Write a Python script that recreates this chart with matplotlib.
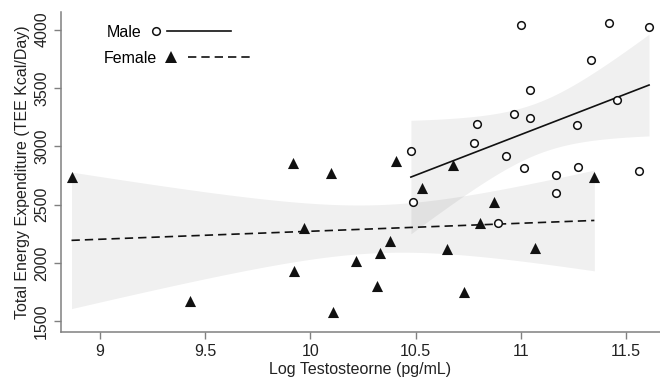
import numpy as np
import matplotlib
matplotlib.use('Agg')
import matplotlib.pyplot as plt
from matplotlib.lines import Line2D
from matplotlib.legend_handler import HandlerBase

plt.rcParams['font.family'] = ['Liberation Sans', 'DejaVu Sans']

# male: log testosterone vs TEE
male_x = [11.00, 11.42, 11.61, 11.335, 11.045, 11.457, 10.966, 11.042, 10.79, 11.267,
          10.78, 10.478, 10.928, 11.017, 11.17, 11.27, 11.56, 11.166, 10.489, 10.89]
male_y = [4038, 4057, 4023, 3737, 3480, 3395, 3275, 3240, 3186, 3180,
          3029, 2957, 2917, 2814, 2757, 2818, 2783, 2600, 2523, 2343]

# female
female_x = [8.865, 9.428, 9.916, 9.922, 9.971, 10.098, 10.106, 10.217, 10.318, 10.33,
            10.38, 10.407, 10.53, 10.65, 10.68, 10.73, 10.806, 10.875, 11.07, 11.35]
female_y = [2737, 1674, 2852, 1929, 2295, 2766, 1580, 2014, 1800, 2086,
            2186, 2872, 2643, 2117, 2837, 1751, 2343, 2523, 2128, 2737]

x_ticks = [9, 9.5, 10, 10.5, 11, 11.5]
x_tick_labels = ['9', '9.5', '10', '10.5', '11', '11.5']
y_ticks = [1500, 2000, 2500, 3000, 3500, 4000]

T_CRIT = 2.101  # t(0.975, df=18)
DASH = (0, (5, 3))


def fit_band(x, y):
    x = np.asarray(x, float)
    y = np.asarray(y, float)
    b, a = np.polyfit(x, y, 1)
    xs = np.linspace(x.min(), x.max(), 100)
    yhat = a + b * xs
    resid = y - (a + b * x)
    s = np.sqrt(np.sum(resid ** 2) / (len(x) - 2))
    sxx = np.sum((x - x.mean()) ** 2)
    se = s * np.sqrt(1.0 / len(x) + (xs - x.mean()) ** 2 / sxx)
    return xs, yhat, yhat - T_CRIT * se, yhat + T_CRIT * se


class MarkThenLine(HandlerBase):
    # marker first, then a line segment, inside one legend handle
    def __init__(self, mark_x, line_x0, **kw):
        super().__init__(**kw)
        self.mark_x = mark_x
        self.line_x0 = line_x0

    def create_artists(self, legend, orig_handle, xdescent, ydescent, width, height, fontsize, trans):
        mk, ln = orig_handle
        y = height / 2 - ydescent
        m = Line2D([-xdescent + self.mark_x], [y], ls='none', marker=mk.get_marker(),
                   ms=mk.get_markersize(), mfc=mk.get_markerfacecolor(),
                   mec=mk.get_markeredgecolor(), mew=mk.get_markeredgewidth())
        l = Line2D([-xdescent + self.line_x0, -xdescent + width], [y, y], color=ln.get_color(),
                   lw=ln.get_linewidth(), ls=ln.get_linestyle())
        if ln.get_linestyle() != '-':
            l.set_dashes(DASH[1])
        m.set_transform(trans)
        l.set_transform(trans)
        return [l, m]


fig = plt.figure(figsize=(6.6, 3.8), dpi=100)
ax = fig.add_axes([0.0924, 0.126, 0.9076, 0.842])

for xv, yv, ls in [(female_x, female_y, DASH), (male_x, male_y, '-')]:
    xs, yhat, lo, hi = fit_band(xv, yv)
    ax.fill_between(xs, lo, hi, color='k', alpha=0.06, linewidth=0)
    ax.plot(xs, yhat, color='#111111', lw=1.2, linestyle=ls, zorder=3)

ax.scatter(female_x, female_y, marker='^', s=8 ** 2, color='#111111', zorder=4, linewidths=0)
ax.scatter(male_x, male_y, marker='o', s=5.5 ** 2, facecolor='white', edgecolor='#111111',
           linewidths=1.1, zorder=4)

ax.set_xlim(8.815, 11.662)
ax.set_ylim(1406, 4149)
ax.set_xticks(x_ticks)
ax.set_xticklabels(x_tick_labels)
ax.set_yticks(y_ticks)
ax.tick_params(axis='y', labelrotation=90)
for lab in ax.get_yticklabels():
    lab.set_va('center')

for side in ['top', 'right']:
    ax.spines[side].set_visible(False)
for side in ['left', 'bottom']:
    ax.spines[side].set_color('#808080')
    ax.spines[side].set_linewidth(1.1)
ax.tick_params(colors='#808080', labelcolor='#222222', labelsize=11.5, length=5, width=1)

ax.set_xlabel('Log Testosteorne (pg/mL)', fontsize=11.5, color='#222222', labelpad=2)
ax.set_ylabel('Total Energy Expenditure (TEE Kcal/Day)', fontsize=11.5, color='#222222', labelpad=3)

m_mark = Line2D([], [], marker='o', ls='none', ms=5.5, mfc='white', mec='#111111', mew=1.1)
m_line = Line2D([], [], color='#111111', lw=1.2, ls='-')
f_mark = Line2D([], [], marker='^', ls='none', ms=8, mfc='#111111', mec='#111111', mew=0)
f_line = Line2D([], [], color='#111111', lw=1.2, ls='--')

leg1 = ax.legend([(m_mark, m_line)], ['Male'], handler_map={tuple: MarkThenLine(5.5, 13.4)},
                 markerfirst=False, frameon=False, loc='center left', bbox_to_anchor=(0.053, 0.9375),
                 handlelength=59.5 / 11.5, handletextpad=0.4, fontsize=11.5)
ax.add_artist(leg1)
ax.legend([(f_mark, f_line)], ['Female'], handler_map={tuple: MarkThenLine(5.5, 17.7)},
          markerfirst=False, frameon=False, loc='center left', bbox_to_anchor=(0.048, 0.856),
          handlelength=63.8 / 11.5, handletextpad=0.4, fontsize=11.5)

fig.savefig('out.png', dpi=100)
